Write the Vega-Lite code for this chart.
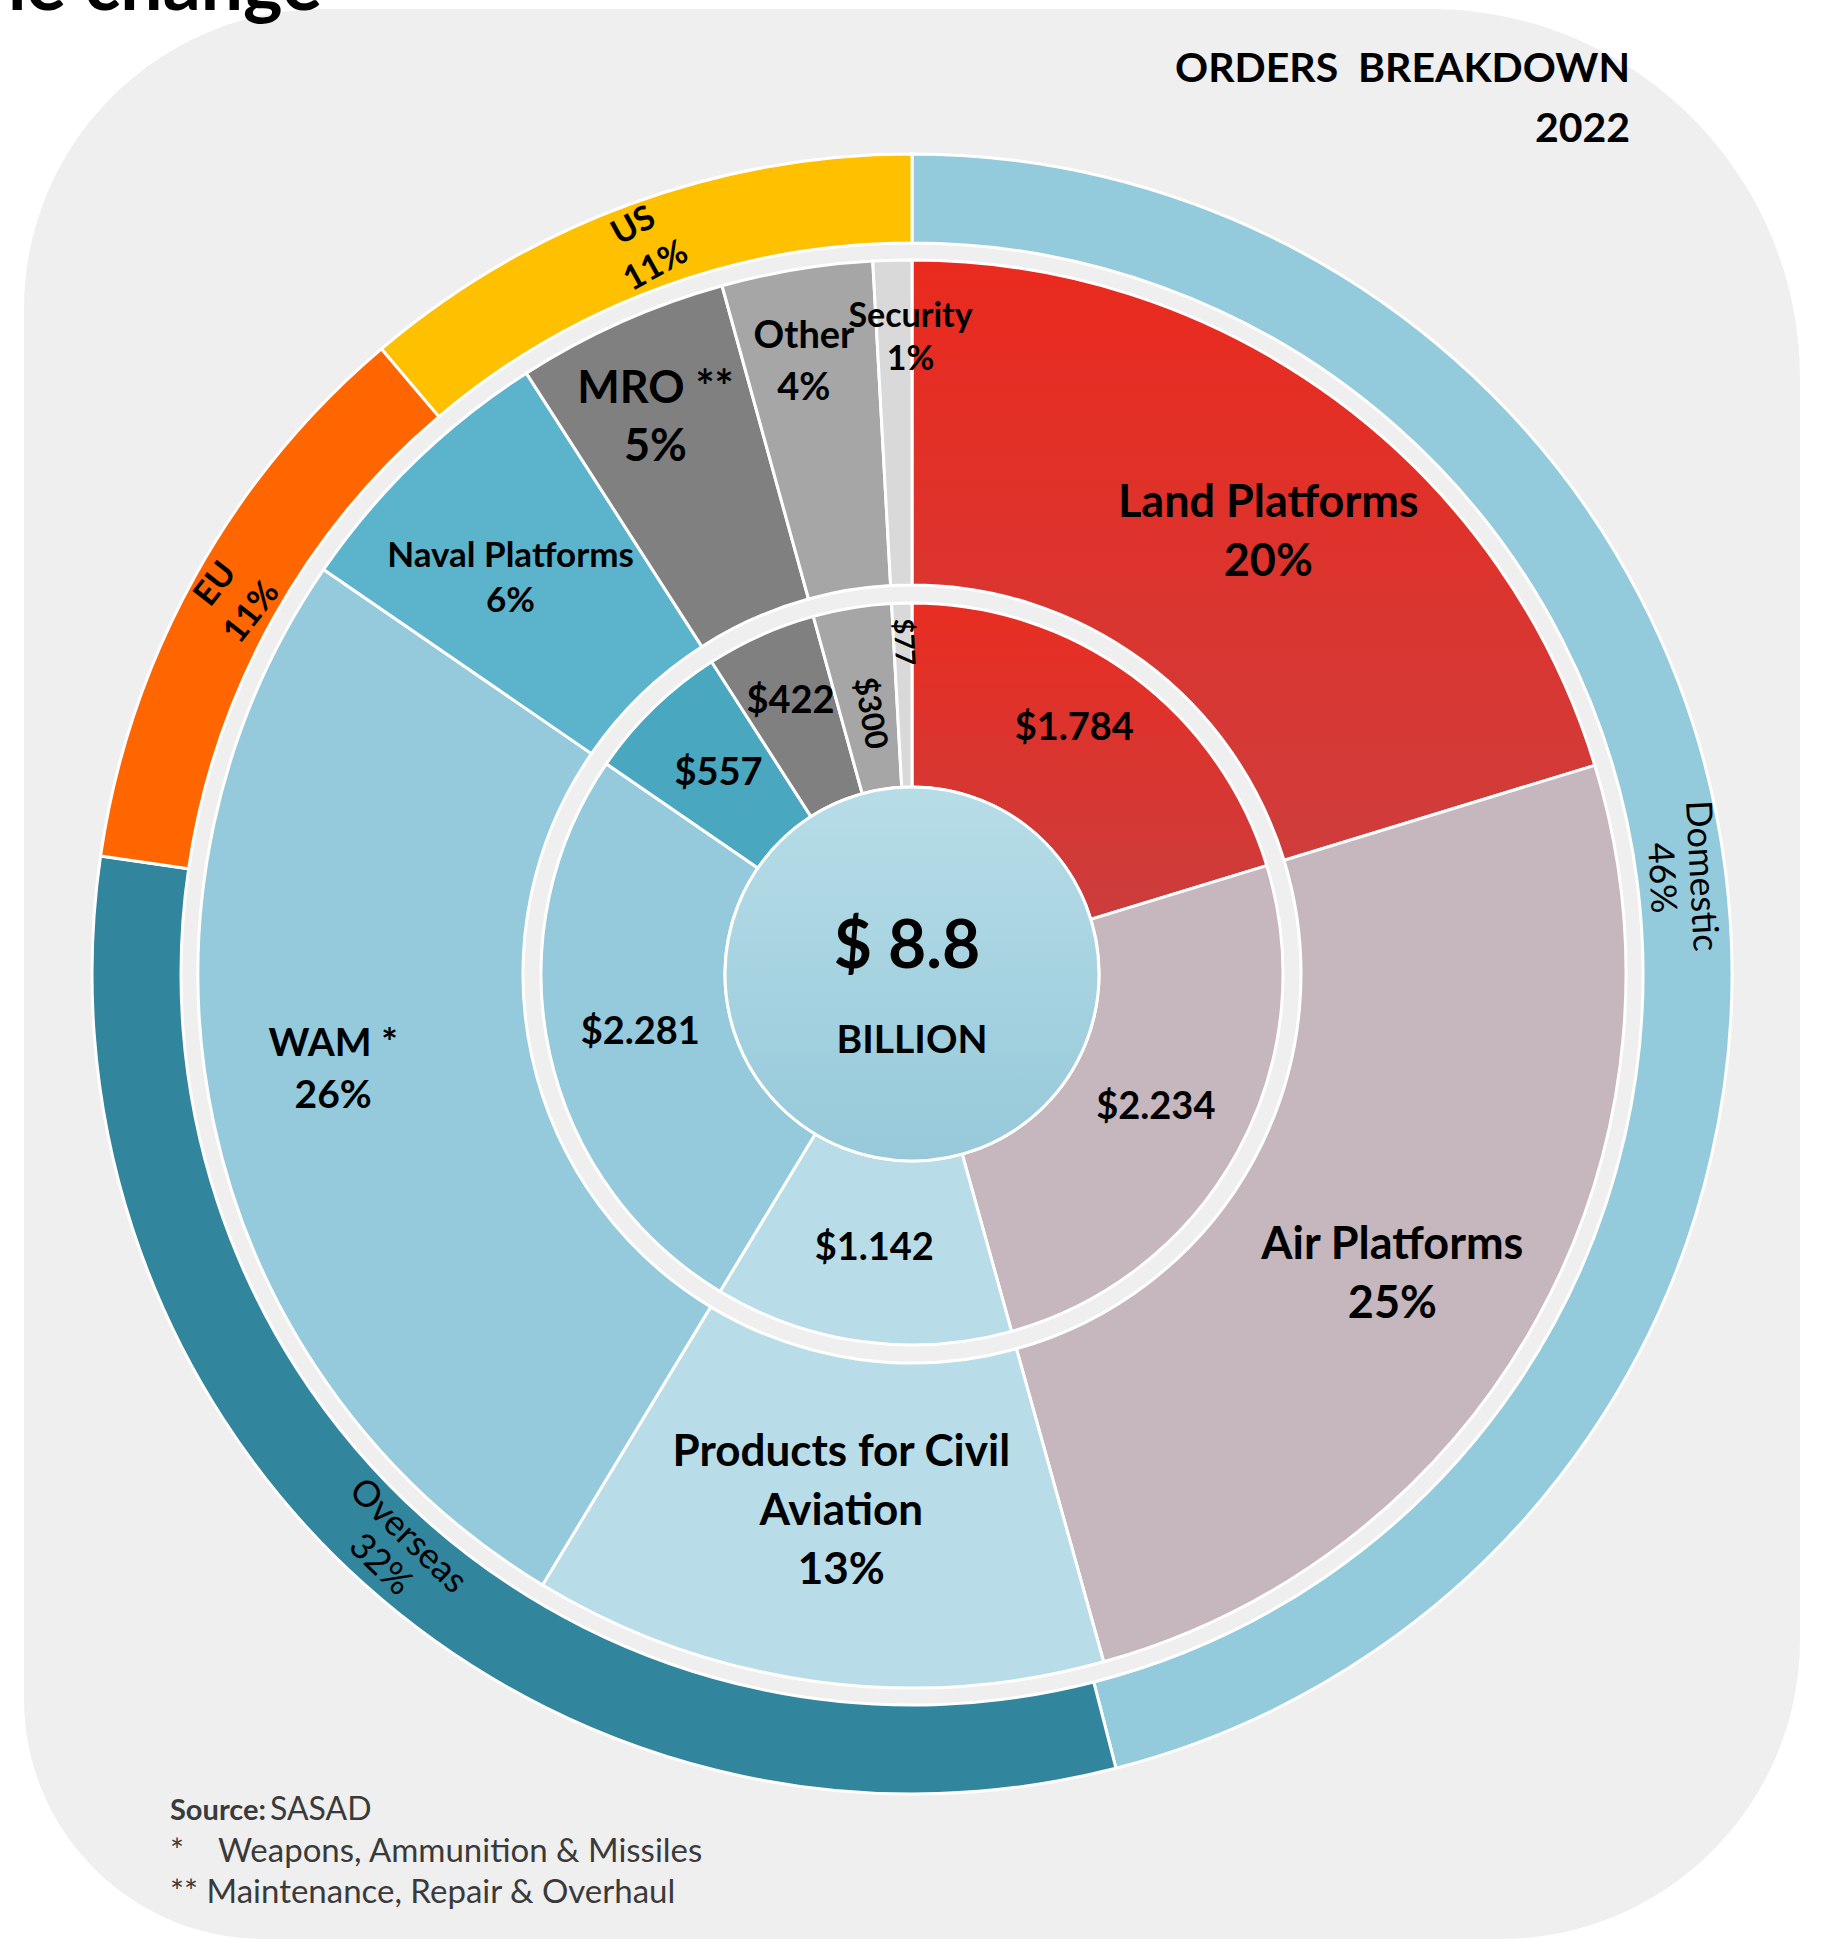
{
  "$schema": "https://vega.github.io/schema/vega-lite/v6.json",
  "width": 1776,
  "height": 1930,
  "autosize": {"type": "none"},
  "padding": {"left": 24, "top": 9, "right": 37, "bottom": 7},
  "background": "#ffffff",
  "config": {"view": {"stroke": null}, "font": "Lato"},
  "datasets": {
    "segments": [
      {"name": "Land Platforms", "value": 1.784, "label": "Land Platforms\n20%", "amount": "$1.784"},
      {"name": "Air Platforms", "value": 2.234, "label": "Air Platforms\n25%", "amount": "$2.234"},
      {"name": "Products for Civil Aviation", "value": 1.142, "label": "Products for Civil\nAviation\n13%", "amount": "$1.142"},
      {"name": "WAM", "value": 2.281, "label": "WAM *\n26%", "amount": "$2.281"},
      {"name": "Naval Platforms", "value": 0.557, "label": "Naval Platforms\n6%", "amount": "$557"},
      {"name": "MRO", "value": 0.422, "label": "MRO **\n5%", "amount": "$422"},
      {"name": "Other", "value": 0.3, "label": "Other\n4%", "amount": "$300"},
      {"name": "Security", "value": 0.077, "label": "Security\n1%", "amount": "$77"}
    ],
    "regions": [
      {"name": "Domestic", "share": 46, "label": "Domestic\n46%"},
      {"name": "Overseas", "share": 31.3, "label": "Overseas\n32%"},
      {"name": "EU", "share": 11.5, "label": "EU\n11%"},
      {"name": "US", "share": 11.2, "label": "US\n11%"}
    ],
    "center": [{"total": 8.8, "big": "$ 8.8", "unit": "BILLION"}]
  },
  "resolve": {"scale": {"theta": "independent"}},
  "layer": [
    {
      "data": {"values": [{"panel": "background"}]},
      "mark": {"type": "rect", "fill": "#efefef", "cornerRadiusTopLeft": 300, "cornerRadiusTopRight": 370, "cornerRadiusBottomLeft": 240, "cornerRadiusBottomRight": 300},
      "encoding": {}
    },
    {
      "data": {"name": "regions"},
      "transform": [{"window": [{"op": "row_number", "as": "ord"}]}],
      "mark": {"type": "arc", "radius": 820, "radius2": 731, "stroke": "#ffffff", "strokeWidth": 3},
      "encoding": {
        "theta": {"field": "share", "type": "quantitative", "stack": true},
        "order": {"field": "ord", "type": "quantitative"},
        "fill": {
          "field": "name", "type": "nominal", "legend": null,
          "scale": {
            "domain": ["Land Platforms", "Air Platforms", "Products for Civil Aviation", "WAM", "Naval Platforms", "MRO", "Other", "Security", "Domestic", "Overseas", "EU", "US"],
            "range": ["#dc3530", "#c6b6bd", "#b8dde8", "#94cadc", "#5bb4cc", "#808080", "#a6a6a6", "#d9d9d9", "#94cbdc", "#31859c", "#ff6600", "#ffc000"]
          }
        }
      }
    },
    {
      "data": {"name": "segments"},
      "transform": [{"window": [{"op": "row_number", "as": "ord"}]}],
      "mark": {"type": "arc", "radius": 714, "radius2": 389, "stroke": "#ffffff", "strokeWidth": 3},
      "encoding": {
        "theta": {"field": "value", "type": "quantitative", "stack": true},
        "order": {"field": "ord", "type": "quantitative"},
        "fill": {
          "condition": [{"test": "datum.name === 'Land Platforms'", "value": {"gradient": "linear", "x1": 0, "y1": 0, "x2": 0, "y2": 1, "stops": [{"offset": 0, "color": "#ea2a1e"}, {"offset": 1, "color": "#cf3d3c"}]}}],
          "field": "name", "type": "nominal", "legend": null
        }
      }
    },
    {
      "data": {"name": "segments"},
      "transform": [{"window": [{"op": "row_number", "as": "ord"}]}],
      "mark": {"type": "arc", "radius": 371, "radius2": 187, "stroke": "#ffffff", "strokeWidth": 3},
      "encoding": {
        "theta": {"field": "value", "type": "quantitative", "stack": true},
        "order": {"field": "ord", "type": "quantitative"},
        "fill": {
          "condition": [
            {"test": "datum.name === 'Land Platforms'", "value": {"gradient": "linear", "x1": 0, "y1": 0, "x2": 0, "y2": 1, "stops": [{"offset": 0, "color": "#e82d22"}, {"offset": 1, "color": "#cb3d3d"}]}},
            {"test": "datum.name === 'Naval Platforms'", "value": "#49a7c0"}
          ],
          "field": "name", "type": "nominal", "legend": null
        }
      }
    },
    {
      "data": {"name": "center"},
      "mark": {"type": "arc", "radius": 187, "radius2": 0, "stroke": "#ffffff", "strokeWidth": 3,
        "fill": {"gradient": "linear", "x1": 0, "y1": 0, "x2": 0, "y2": 1, "stops": [{"offset": 0, "color": "#b7dde7"}, {"offset": 1, "color": "#96c9da"}]}},
      "encoding": {"theta": {"field": "total", "type": "quantitative", "stack": true}}
    },
    {
      "data": {"name": "segments"},
      "transform": [{"window": [{"op": "row_number", "as": "ord"}]}],
      "mark": {"type": "text", "radius": 567, "fontSize": 45, "fontWeight": "bold", "lineHeight": 59, "lineBreak": "\n", "align": "center", "baseline": "middle", "dx": 19, "dy": -15, "fill": "#000000"},
      "encoding": {
        "theta": {"field": "value", "type": "quantitative", "stack": true},
        "order": {"field": "ord", "type": "quantitative"},
        "detail": {"field": "name", "type": "nominal"},
        "text": {"condition": {"test": "datum.name === 'Land Platforms'", "field": "label", "type": "nominal"}, "value": ""}
      }
    },
    {
      "data": {"name": "segments"},
      "transform": [{"window": [{"op": "row_number", "as": "ord"}]}],
      "mark": {"type": "text", "radius": 566, "fontSize": 45, "fontWeight": "bold", "lineHeight": 59, "lineBreak": "\n", "align": "center", "baseline": "middle", "dx": -16, "dy": -1, "fill": "#000000"},
      "encoding": {
        "theta": {"field": "value", "type": "quantitative", "stack": true},
        "order": {"field": "ord", "type": "quantitative"},
        "detail": {"field": "name", "type": "nominal"},
        "text": {"condition": {"test": "datum.name === 'Air Platforms'", "field": "label", "type": "nominal"}, "value": ""}
      }
    },
    {
      "data": {"name": "segments"},
      "transform": [{"window": [{"op": "row_number", "as": "ord"}]}],
      "mark": {"type": "text", "radius": 543, "fontSize": 44, "fontWeight": "bold", "lineHeight": 59, "lineBreak": "\n", "align": "center", "baseline": "middle", "dx": 3, "dy": -59, "fill": "#000000"},
      "encoding": {
        "theta": {"field": "value", "type": "quantitative", "stack": true},
        "order": {"field": "ord", "type": "quantitative"},
        "detail": {"field": "name", "type": "nominal"},
        "text": {"condition": {"test": "datum.name === 'Products for Civil Aviation'", "field": "label", "type": "nominal"}, "value": ""}
      }
    },
    {
      "data": {"name": "segments"},
      "transform": [{"window": [{"op": "row_number", "as": "ord"}]}],
      "mark": {"type": "text", "radius": 586, "fontSize": 39, "fontWeight": "bold", "lineHeight": 52, "lineBreak": "\n", "align": "center", "baseline": "middle", "dx": -6, "dy": -53, "fill": "#000000"},
      "encoding": {
        "theta": {"field": "value", "type": "quantitative", "stack": true},
        "order": {"field": "ord", "type": "quantitative"},
        "detail": {"field": "name", "type": "nominal"},
        "text": {"condition": {"test": "datum.name === 'WAM'", "field": "label", "type": "nominal"}, "value": ""}
      }
    },
    {
      "data": {"name": "segments"},
      "transform": [{"window": [{"op": "row_number", "as": "ord"}]}],
      "mark": {"type": "text", "radius": 564, "fontSize": 35, "fontWeight": "bold", "lineHeight": 45, "lineBreak": "\n", "align": "center", "baseline": "middle", "dx": -9, "dy": -13, "fill": "#000000"},
      "encoding": {
        "theta": {"field": "value", "type": "quantitative", "stack": true},
        "order": {"field": "ord", "type": "quantitative"},
        "detail": {"field": "name", "type": "nominal"},
        "text": {"condition": {"test": "datum.name === 'Naval Platforms'", "field": "label", "type": "nominal"}, "value": ""}
      }
    },
    {
      "data": {"name": "segments"},
      "transform": [{"window": [{"op": "row_number", "as": "ord"}]}],
      "mark": {"type": "text", "radius": 612, "fontSize": 45, "fontWeight": "bold", "lineHeight": 58, "lineBreak": "\n", "align": "center", "baseline": "middle", "dx": -7, "dy": -26, "fill": "#000000"},
      "encoding": {
        "theta": {"field": "value", "type": "quantitative", "stack": true},
        "order": {"field": "ord", "type": "quantitative"},
        "detail": {"field": "name", "type": "nominal"},
        "text": {"condition": {"test": "datum.name === 'MRO'", "field": "label", "type": "nominal"}, "value": ""}
      }
    },
    {
      "data": {"name": "segments"},
      "transform": [{"window": [{"op": "row_number", "as": "ord"}]}],
      "mark": {"type": "text", "radius": 620, "fontSize": 38, "fontWeight": "bold", "lineHeight": 52, "lineBreak": "\n", "align": "center", "baseline": "middle", "dx": -8, "dy": -25, "fill": "#000000"},
      "encoding": {
        "theta": {"field": "value", "type": "quantitative", "stack": true},
        "order": {"field": "ord", "type": "quantitative"},
        "detail": {"field": "name", "type": "nominal"},
        "text": {"condition": {"test": "datum.name === 'Other'", "field": "label", "type": "nominal"}, "value": ""}
      }
    },
    {
      "data": {"name": "segments"},
      "transform": [{"window": [{"op": "row_number", "as": "ord"}]}],
      "mark": {"type": "text", "radius": 635, "fontSize": 34, "fontWeight": "bold", "lineHeight": 43, "lineBreak": "\n", "align": "center", "baseline": "middle", "dx": 16, "dy": -22, "fill": "#000000"},
      "encoding": {
        "theta": {"field": "value", "type": "quantitative", "stack": true},
        "order": {"field": "ord", "type": "quantitative"},
        "detail": {"field": "name", "type": "nominal"},
        "text": {"condition": {"test": "datum.name === 'Security'", "field": "label", "type": "nominal"}, "value": ""}
      }
    },
    {
      "data": {"name": "segments"},
      "transform": [{"window": [{"op": "row_number", "as": "ord"}]}],
      "mark": {"type": "text", "radius": 278, "fontSize": 38, "fontWeight": "bold", "align": "center", "baseline": "middle", "fill": "#000000"},
      "encoding": {
        "theta": {"field": "value", "type": "quantitative", "stack": true},
        "order": {"field": "ord", "type": "quantitative"},
        "detail": {"field": "name", "type": "nominal"},
        "text": {"condition": {"test": "indexof(['Air Platforms','Products for Civil Aviation','WAM','Naval Platforms'], datum.name) >= 0", "field": "amount", "type": "nominal"}, "value": ""}
      }
    },
    {
      "data": {"name": "segments"},
      "transform": [{"window": [{"op": "row_number", "as": "ord"}]}],
      "mark": {"type": "text", "radius": 293, "fontSize": 38, "fontWeight": "bold", "align": "center", "baseline": "middle", "dx": -12, "dy": -9, "fill": "#000000"},
      "encoding": {
        "theta": {"field": "value", "type": "quantitative", "stack": true},
        "order": {"field": "ord", "type": "quantitative"},
        "detail": {"field": "name", "type": "nominal"},
        "text": {"condition": {"test": "datum.name === 'Land Platforms'", "field": "amount", "type": "nominal"}, "value": ""}
      }
    },
    {
      "data": {"name": "segments"},
      "transform": [{"window": [{"op": "row_number", "as": "ord"}]}],
      "mark": {"type": "text", "radius": 298, "fontSize": 38, "fontWeight": "bold", "align": "center", "baseline": "middle", "fill": "#000000"},
      "encoding": {
        "theta": {"field": "value", "type": "quantitative", "stack": true},
        "order": {"field": "ord", "type": "quantitative"},
        "detail": {"field": "name", "type": "nominal"},
        "text": {"condition": {"test": "datum.name === 'MRO'", "field": "amount", "type": "nominal"}, "value": ""}
      }
    },
    {
      "data": {"name": "segments"},
      "transform": [{"window": [{"op": "row_number", "as": "ord"}]}],
      "mark": {"type": "text", "radius": 264, "fontSize": 31, "fontWeight": "bold", "angle": 80, "align": "center", "baseline": "middle", "fill": "#000000"},
      "encoding": {
        "theta": {"field": "value", "type": "quantitative", "stack": true},
        "order": {"field": "ord", "type": "quantitative"},
        "detail": {"field": "name", "type": "nominal"},
        "text": {"condition": {"test": "datum.name === 'Other'", "field": "amount", "type": "nominal"}, "value": ""}
      }
    },
    {
      "data": {"name": "segments"},
      "transform": [{"window": [{"op": "row_number", "as": "ord"}]}],
      "mark": {"type": "text", "radius": 335, "fontSize": 27, "fontWeight": "bold", "angle": 87, "align": "center", "baseline": "middle", "dx": 3, "fill": "#000000"},
      "encoding": {
        "theta": {"field": "value", "type": "quantitative", "stack": true},
        "order": {"field": "ord", "type": "quantitative"},
        "detail": {"field": "name", "type": "nominal"},
        "text": {"condition": {"test": "datum.name === 'Security'", "field": "amount", "type": "nominal"}, "value": ""}
      }
    },
    {
      "data": {"name": "regions"},
      "transform": [{"window": [{"op": "row_number", "as": "ord"}]}],
      "mark": {"type": "text", "radius": 775, "fontSize": 36, "fontWeight": "normal", "lineHeight": 40, "lineBreak": "\n", "align": "center", "baseline": "middle", "dy": -20, "fill": "#000000"},
      "encoding": {
        "theta": {"field": "share", "type": "quantitative", "stack": true},
        "order": {"field": "ord", "type": "quantitative"},
        "detail": {"field": "name", "type": "nominal"},
        "angle": {"condition": [{"test": "datum.name === 'Domestic'", "value": 87}, {"test": "datum.name === 'Overseas'", "value": 44}], "value": 0},
        "text": {"condition": {"test": "indexof(['Domestic','Overseas'], datum.name) >= 0", "field": "label", "type": "nominal"}, "value": ""}
      }
    },
    {
      "data": {"name": "regions"},
      "transform": [{"window": [{"op": "row_number", "as": "ord"}]}],
      "mark": {"type": "text", "radius": 775, "fontSize": 34, "fontWeight": "bold", "lineHeight": 46, "lineBreak": "\n", "align": "center", "baseline": "middle", "dy": -23, "fill": "#000000"},
      "encoding": {
        "theta": {"field": "share", "type": "quantitative", "stack": true},
        "order": {"field": "ord", "type": "quantitative"},
        "detail": {"field": "name", "type": "nominal"},
        "angle": {"condition": [{"test": "datum.name === 'EU'", "value": -52}, {"test": "datum.name === 'US'", "value": -29}], "value": 0},
        "text": {"condition": {"test": "indexof(['EU','US'], datum.name) >= 0", "field": "label", "type": "nominal"}, "value": ""}
      }
    },
    {
      "data": {"name": "center"},
      "mark": {"type": "text", "radius": 0, "fontSize": 66, "fontWeight": "bold", "align": "center", "baseline": "alphabetic", "dy": -6, "dx": -5, "fill": "#000000"},
      "encoding": {
        "theta": {"field": "total", "type": "quantitative", "stack": true},
        "text": {"field": "big", "type": "nominal"}
      }
    },
    {
      "data": {"name": "center"},
      "mark": {"type": "text", "radius": 0, "fontSize": 39, "fontWeight": "bold", "align": "center", "baseline": "alphabetic", "dy": 79, "fill": "#000000"},
      "encoding": {
        "theta": {"field": "total", "type": "quantitative", "stack": true},
        "text": {"field": "unit", "type": "nominal"}
      }
    },
    {
      "data": {"values": [{"t": "ORDERS\u00a0\u00a0BREAKDOWN"}]},
      "mark": {"type": "text", "x": 1606, "y": 73, "align": "right", "baseline": "alphabetic", "fontSize": 41, "fontWeight": "bold", "fill": "#000000"},
      "encoding": {"text": {"field": "t", "type": "nominal"}}
    },
    {
      "data": {"values": [{"t": "2022"}]},
      "mark": {"type": "text", "x": 1606, "y": 133, "align": "right", "baseline": "alphabetic", "fontSize": 41, "fontWeight": "bold", "fill": "#000000"},
      "encoding": {"text": {"field": "t", "type": "nominal"}}
    },
    {
      "data": {"values": [{"t": "the change"}]},
      "mark": {"type": "text", "x": 298, "y": 1, "align": "right", "baseline": "alphabetic", "fontSize": 75, "fontWeight": "bold", "fill": "#000000"},
      "encoding": {"text": {"field": "t", "type": "nominal"}}
    },
    {
      "data": {"values": [{"t": "Source:"}]},
      "mark": {"type": "text", "x": 146, "y": 1811, "align": "left", "baseline": "alphabetic", "fontSize": 29, "fontWeight": "bold", "fill": "#3a3a3a"},
      "encoding": {"text": {"field": "t", "type": "nominal"}}
    },
    {
      "data": {"values": [{"t": "SASAD"}]},
      "mark": {"type": "text", "x": 246, "y": 1811, "align": "left", "baseline": "alphabetic", "fontSize": 32, "fontWeight": "normal", "fill": "#3a3a3a"},
      "encoding": {"text": {"field": "t", "type": "nominal"}}
    },
    {
      "data": {"values": [{"t": "*"}]},
      "mark": {"type": "text", "x": 146, "y": 1853, "align": "left", "baseline": "alphabetic", "fontSize": 33, "fontWeight": "normal", "fill": "#3a3a3a"},
      "encoding": {"text": {"field": "t", "type": "nominal"}}
    },
    {
      "data": {"values": [{"t": "Weapons, Ammunition & Missiles"}]},
      "mark": {"type": "text", "x": 194, "y": 1853, "align": "left", "baseline": "alphabetic", "fontSize": 33, "fontWeight": "normal", "fill": "#3a3a3a"},
      "encoding": {"text": {"field": "t", "type": "nominal"}}
    },
    {
      "data": {"values": [{"t": "** Maintenance, Repair & Overhaul"}]},
      "mark": {"type": "text", "x": 146, "y": 1894, "align": "left", "baseline": "alphabetic", "fontSize": 33, "fontWeight": "normal", "fill": "#3a3a3a"},
      "encoding": {"text": {"field": "t", "type": "nominal"}}
    }
  ]
}
